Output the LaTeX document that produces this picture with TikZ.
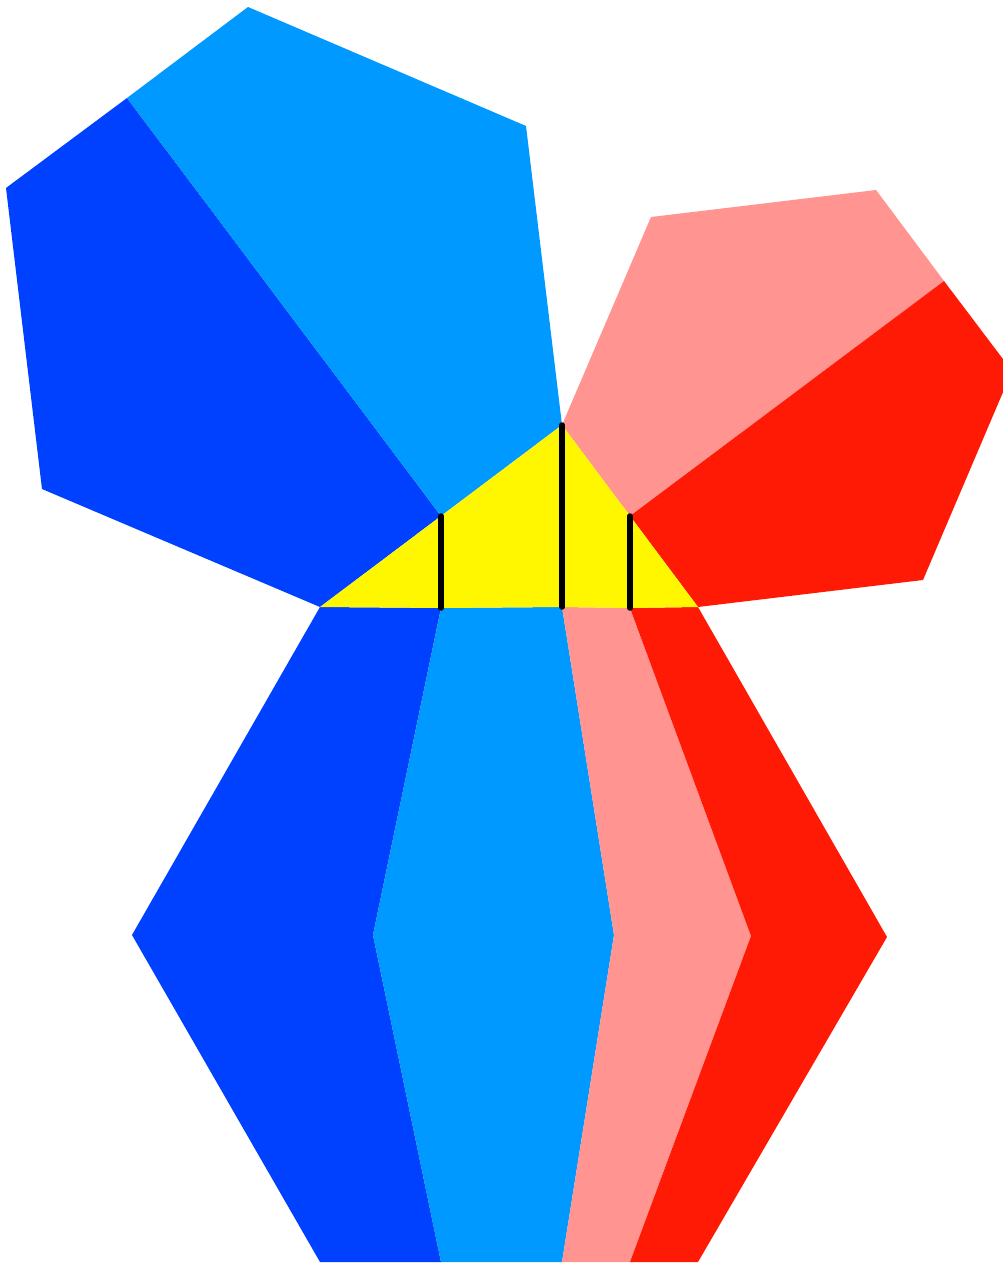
\documentclass[tikz,border=0pt]{standalone}
\definecolor{dblue}{RGB}{0,64,255}
\definecolor{lblue}{RGB}{0,153,255}
\definecolor{lpink}{RGB}{255,148,145}
\definecolor{dred}{RGB}{255,26,5}
\definecolor{ylw}{RGB}{255,247,0}
\begin{document}
\begin{tikzpicture}[x=1pt,y=-1pt,
  piece/.style={line join=round},
  bar/.style={draw=black,line width=5.5pt,line cap=round}]
\useasboundingbox (0,0) rectangle (1003,1263);
\begin{scope}
\clip (0,0) rectangle (1003,1263);
% coordinates
\coordinate (A) at (320,607);
\coordinate (B) at (562,425);
\coordinate (C) at (698,607);
\coordinate (M1) at (441,516);
\coordinate (M2) at (630,516);
\coordinate (B1) at (441,608);
\coordinate (B2) at (562,607);
\coordinate (B3) at (630,608);
% upper blue hexagon
\fill[dblue,piece] (127,98) -- (M1) -- (A) -- (42,489) -- (6,188) -- cycle;
\fill[lblue,piece] (127,98) -- (248,7) -- (526,126) -- (B) -- (M1) -- cycle;
% upper red hexagon
\fill[lpink,piece] (B) -- (651,217) -- (876,190) -- (944,281) -- (M2) -- cycle;
\fill[dred,piece] (944,281) -- (1012,371) -- (923,580) -- (C) -- (M2) -- cycle;
% lower strips
\fill[dblue,piece] (A) -- (B1) -- (373,935) -- (441,1262) -- (320,1262) -- (132,935) -- cycle;
\fill[lblue,piece] (B1) -- (B2) -- (614,935) -- (562,1262) -- (441,1262) -- (373,935) -- cycle;
\fill[lpink,piece] (B2) -- (B3) -- (751,936) -- (630,1262) -- (562,1262) -- (614,935) -- cycle;
\fill[dred,piece] (B3) -- (C) -- (887,937) -- (698,1262) -- (630,1262) -- (751,936) -- cycle;
% yellow triangle
\fill[ylw,piece] (A) -- (B) -- (C) -- (B3) -- (B2) -- (B1) -- cycle;
% bars
\draw[bar] (M1) -- (B1);
\draw[bar] (B) -- (B2);
\draw[bar] (M2) -- (B3);
\end{scope}
\end{tikzpicture}
\end{document}
